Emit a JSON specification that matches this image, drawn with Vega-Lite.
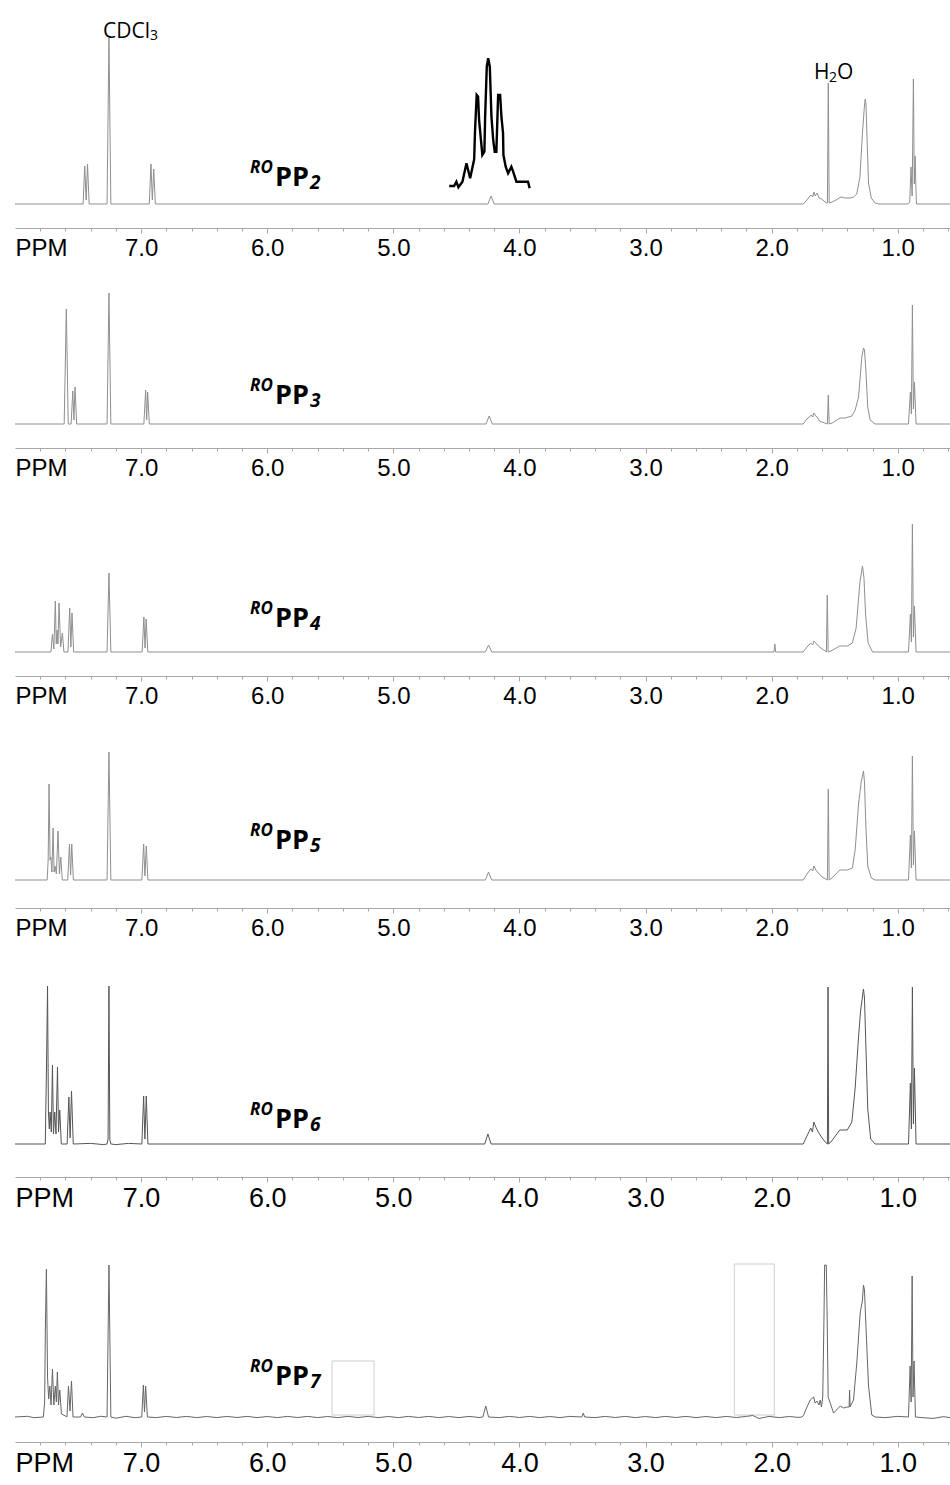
{
  "$schema": "https://vega.github.io/schema/vega-lite/v6.json",
  "padding": {"left": 13, "top": 0, "right": 0, "bottom": 0},
  "background": "white",
  "spacing": 0,
  "bounds": "flush",
  "config": {
    "view": {"stroke": null},
    "axisX": {
      "title": null, "grid": false, "domainColor": "#a8a8a8", "domainWidth": 1,
      "labelColor": "#000000", "labelFont": "Liberation Sans", "labelFontSize": 24,
      "labelPadding": 3, "labelFlush": false, "labelOverlap": false,
      "values": [8, 7.5, 7, 6.5, 6, 5.5, 5, 4.5, 4, 3.5, 3, 2.5, 2, 1.5, 1],
      "labelExpr": "datum.value == 8 ? 'PPM' : (datum.value % 1 == 0 ? format(datum.value, '.1f') : '')",
      "labelAlign": {"condition": {"test": "datum.value == 8", "value": "left"}, "value": "center"},
      "tickColor": {"condition": {"test": "datum.value == 8", "value": "transparent"}, "value": "#a8a8a8"},
      "tickSize": {"condition": {"test": "datum.value % 1 != 0", "value": 3}, "value": 5}
    }
  },
  "datasets": {
    "spec": [
      {"p":1,"ppm":8,"i":0},{"p":1,"ppm":7.46,"i":0},{"p":1,"ppm":7.447,"i":38},{"p":1,"ppm":7.436,"i":4},{"p":1,"ppm":7.425,"i":40},{"p":1,"ppm":7.412,"i":0},{"p":1,"ppm":7.27,"i":0},{"p":1,"ppm":7.255,"i":166},{"p":1,"ppm":7.24,"i":0},{"p":1,"ppm":6.935,"i":0},{"p":1,"ppm":6.922,"i":40},{"p":1,"ppm":6.911,"i":4},{"p":1,"ppm":6.9,"i":35},{"p":1,"ppm":6.887,"i":0},{"p":1,"ppm":4.25,"i":0},{"p":1,"ppm":4.225,"i":8},{"p":1,"ppm":4.2,"i":0},{"p":1,"ppm":1.75,"i":0},{"p":1,"ppm":1.72,"i":4},{"p":1,"ppm":1.69,"i":9},{"p":1,"ppm":1.675,"i":7},{"p":1,"ppm":1.665,"i":12},{"p":1,"ppm":1.655,"i":8},{"p":1,"ppm":1.64,"i":11},{"p":1,"ppm":1.625,"i":6},{"p":1,"ppm":1.605,"i":5},{"p":1,"ppm":1.585,"i":3},{"p":1,"ppm":1.565,"i":1},{"p":1,"ppm":1.558,"i":1},{"p":1,"ppm":1.551,"i":121},{"p":1,"ppm":1.544,"i":1},{"p":1,"ppm":1.52,"i":2},{"p":1,"ppm":1.49,"i":4},{"p":1,"ppm":1.45,"i":7},{"p":1,"ppm":1.42,"i":6},{"p":1,"ppm":1.38,"i":6},{"p":1,"ppm":1.35,"i":7},{"p":1,"ppm":1.325,"i":10},{"p":1,"ppm":1.3,"i":27},{"p":1,"ppm":1.28,"i":71},{"p":1,"ppm":1.265,"i":97},{"p":1,"ppm":1.258,"i":105},{"p":1,"ppm":1.252,"i":100},{"p":1,"ppm":1.245,"i":71},{"p":1,"ppm":1.232,"i":21},{"p":1,"ppm":1.21,"i":6},{"p":1,"ppm":1.18,"i":1},{"p":1,"ppm":1.15,"i":0},{"p":1,"ppm":0.92,"i":0},{"p":1,"ppm":0.905,"i":2},{"p":1,"ppm":0.895,"i":37},{"p":1,"ppm":0.886,"i":8},{"p":1,"ppm":0.876,"i":125},{"p":1,"ppm":0.869,"i":20},{"p":1,"ppm":0.863,"i":48},{"p":1,"ppm":0.852,"i":0},{"p":1,"ppm":0.57,"i":0},

      {"p":2,"ppm":8,"i":0},{"p":2,"ppm":7.61,"i":0},{"p":2,"ppm":7.593,"i":115},{"p":2,"ppm":7.578,"i":0},{"p":2,"ppm":7.555,"i":0},{"p":2,"ppm":7.542,"i":33},{"p":2,"ppm":7.533,"i":4},{"p":2,"ppm":7.524,"i":37},{"p":2,"ppm":7.511,"i":0},{"p":2,"ppm":7.27,"i":0},{"p":2,"ppm":7.255,"i":131},{"p":2,"ppm":7.24,"i":0},{"p":2,"ppm":6.978,"i":0},{"p":2,"ppm":6.964,"i":34},{"p":2,"ppm":6.956,"i":4},{"p":2,"ppm":6.948,"i":32},{"p":2,"ppm":6.935,"i":0},{"p":2,"ppm":4.265,"i":0},{"p":2,"ppm":4.24,"i":8},{"p":2,"ppm":4.215,"i":0},{"p":2,"ppm":1.75,"i":0},{"p":2,"ppm":1.72,"i":5},{"p":2,"ppm":1.685,"i":9},{"p":2,"ppm":1.675,"i":7},{"p":2,"ppm":1.665,"i":11},{"p":2,"ppm":1.655,"i":9},{"p":2,"ppm":1.64,"i":7},{"p":2,"ppm":1.62,"i":3},{"p":2,"ppm":1.58,"i":1},{"p":2,"ppm":1.558,"i":0},{"p":2,"ppm":1.551,"i":29},{"p":2,"ppm":1.544,"i":0},{"p":2,"ppm":1.52,"i":1},{"p":2,"ppm":1.457,"i":6},{"p":2,"ppm":1.417,"i":6},{"p":2,"ppm":1.364,"i":8},{"p":2,"ppm":1.338,"i":14},{"p":2,"ppm":1.311,"i":27},{"p":2,"ppm":1.285,"i":67},{"p":2,"ppm":1.272,"i":76},{"p":2,"ppm":1.264,"i":74},{"p":2,"ppm":1.253,"i":54},{"p":2,"ppm":1.238,"i":17},{"p":2,"ppm":1.219,"i":4},{"p":2,"ppm":1.18,"i":0},{"p":2,"ppm":0.915,"i":0},{"p":2,"ppm":0.9,"i":32},{"p":2,"ppm":0.892,"i":10},{"p":2,"ppm":0.884,"i":119},{"p":2,"ppm":0.876,"i":15},{"p":2,"ppm":0.868,"i":42},{"p":2,"ppm":0.855,"i":0},{"p":2,"ppm":0.57,"i":0},

      {"p":3,"ppm":8,"i":0},{"p":3,"ppm":7.715,"i":0},{"p":3,"ppm":7.703,"i":18},{"p":3,"ppm":7.692,"i":3},{"p":3,"ppm":7.68,"i":51},{"p":3,"ppm":7.673,"i":8},{"p":3,"ppm":7.666,"i":22},{"p":3,"ppm":7.659,"i":8},{"p":3,"ppm":7.651,"i":49},{"p":3,"ppm":7.638,"i":5},{"p":3,"ppm":7.624,"i":19},{"p":3,"ppm":7.612,"i":0},{"p":3,"ppm":7.58,"i":0},{"p":3,"ppm":7.566,"i":44},{"p":3,"ppm":7.557,"i":5},{"p":3,"ppm":7.548,"i":39},{"p":3,"ppm":7.535,"i":0},{"p":3,"ppm":7.27,"i":0},{"p":3,"ppm":7.255,"i":79},{"p":3,"ppm":7.24,"i":0},{"p":3,"ppm":6.992,"i":0},{"p":3,"ppm":6.978,"i":35},{"p":3,"ppm":6.969,"i":4},{"p":3,"ppm":6.96,"i":33},{"p":3,"ppm":6.947,"i":0},{"p":3,"ppm":4.27,"i":0},{"p":3,"ppm":4.245,"i":7},{"p":3,"ppm":4.22,"i":0},{"p":3,"ppm":1.982,"i":0},{"p":3,"ppm":1.975,"i":8},{"p":3,"ppm":1.968,"i":0},{"p":3,"ppm":1.75,"i":0},{"p":3,"ppm":1.72,"i":5},{"p":3,"ppm":1.69,"i":9},{"p":3,"ppm":1.675,"i":7},{"p":3,"ppm":1.665,"i":11},{"p":3,"ppm":1.65,"i":9},{"p":3,"ppm":1.63,"i":6},{"p":3,"ppm":1.6,"i":3},{"p":3,"ppm":1.575,"i":1},{"p":3,"ppm":1.566,"i":0},{"p":3,"ppm":1.559,"i":57},{"p":3,"ppm":1.552,"i":0},{"p":3,"ppm":1.53,"i":1},{"p":3,"ppm":1.46,"i":6},{"p":3,"ppm":1.4,"i":6},{"p":3,"ppm":1.36,"i":9},{"p":3,"ppm":1.33,"i":24},{"p":3,"ppm":1.3,"i":70},{"p":3,"ppm":1.28,"i":86},{"p":3,"ppm":1.268,"i":74},{"p":3,"ppm":1.255,"i":37},{"p":3,"ppm":1.235,"i":9},{"p":3,"ppm":1.2,"i":0},{"p":3,"ppm":0.915,"i":0},{"p":3,"ppm":0.9,"i":38},{"p":3,"ppm":0.892,"i":10},{"p":3,"ppm":0.884,"i":128},{"p":3,"ppm":0.876,"i":15},{"p":3,"ppm":0.868,"i":46},{"p":3,"ppm":0.855,"i":0},{"p":3,"ppm":0.57,"i":0},

      {"p":4,"ppm":8,"i":0},{"p":4,"ppm":7.745,"i":0},{"p":4,"ppm":7.737,"i":20},{"p":4,"ppm":7.73,"i":96},{"p":4,"ppm":7.722,"i":20},{"p":4,"ppm":7.716,"i":23},{"p":4,"ppm":7.707,"i":8},{"p":4,"ppm":7.698,"i":52},{"p":4,"ppm":7.69,"i":8},{"p":4,"ppm":7.683,"i":14},{"p":4,"ppm":7.672,"i":6},{"p":4,"ppm":7.659,"i":49},{"p":4,"ppm":7.648,"i":6},{"p":4,"ppm":7.637,"i":23},{"p":4,"ppm":7.625,"i":0},{"p":4,"ppm":7.582,"i":0},{"p":4,"ppm":7.568,"i":36},{"p":4,"ppm":7.559,"i":5},{"p":4,"ppm":7.55,"i":36},{"p":4,"ppm":7.537,"i":0},{"p":4,"ppm":7.27,"i":0},{"p":4,"ppm":7.255,"i":128},{"p":4,"ppm":7.24,"i":0},{"p":4,"ppm":6.994,"i":0},{"p":4,"ppm":6.98,"i":36},{"p":4,"ppm":6.97,"i":4},{"p":4,"ppm":6.959,"i":34},{"p":4,"ppm":6.946,"i":0},{"p":4,"ppm":4.27,"i":0},{"p":4,"ppm":4.245,"i":8},{"p":4,"ppm":4.22,"i":0},{"p":4,"ppm":1.75,"i":0},{"p":4,"ppm":1.72,"i":6},{"p":4,"ppm":1.69,"i":11},{"p":4,"ppm":1.675,"i":9},{"p":4,"ppm":1.665,"i":14},{"p":4,"ppm":1.65,"i":10},{"p":4,"ppm":1.63,"i":7},{"p":4,"ppm":1.6,"i":3},{"p":4,"ppm":1.57,"i":1},{"p":4,"ppm":1.558,"i":0},{"p":4,"ppm":1.551,"i":91},{"p":4,"ppm":1.544,"i":0},{"p":4,"ppm":1.53,"i":1},{"p":4,"ppm":1.46,"i":10},{"p":4,"ppm":1.4,"i":10},{"p":4,"ppm":1.36,"i":12},{"p":4,"ppm":1.338,"i":30},{"p":4,"ppm":1.311,"i":76},{"p":4,"ppm":1.29,"i":98},{"p":4,"ppm":1.272,"i":109},{"p":4,"ppm":1.264,"i":98},{"p":4,"ppm":1.253,"i":54},{"p":4,"ppm":1.238,"i":14},{"p":4,"ppm":1.21,"i":2},{"p":4,"ppm":1.18,"i":0},{"p":4,"ppm":0.915,"i":0},{"p":4,"ppm":0.9,"i":45},{"p":4,"ppm":0.892,"i":12},{"p":4,"ppm":0.884,"i":124},{"p":4,"ppm":0.876,"i":15},{"p":4,"ppm":0.868,"i":49},{"p":4,"ppm":0.855,"i":0},{"p":4,"ppm":0.57,"i":0},

      {"p":5,"ppm":8,"i":0},{"p":5,"ppm":7.76,"i":0},{"p":5,"ppm":7.75,"i":79},{"p":5,"ppm":7.742,"i":158},{"p":5,"ppm":7.735,"i":32},{"p":5,"ppm":7.728,"i":15},{"p":5,"ppm":7.722,"i":32},{"p":5,"ppm":7.712,"i":12},{"p":5,"ppm":7.703,"i":79},{"p":5,"ppm":7.695,"i":10},{"p":5,"ppm":7.685,"i":32},{"p":5,"ppm":7.675,"i":10},{"p":5,"ppm":7.663,"i":77},{"p":5,"ppm":7.655,"i":12},{"p":5,"ppm":7.645,"i":34},{"p":5,"ppm":7.633,"i":0},{"p":5,"ppm":7.587,"i":0},{"p":5,"ppm":7.573,"i":47},{"p":5,"ppm":7.563,"i":6},{"p":5,"ppm":7.552,"i":53},{"p":5,"ppm":7.538,"i":0},{"p":5,"ppm":7.4,"i":0.6},{"p":5,"ppm":7.3,"i":-0.6},{"p":5,"ppm":7.27,"i":0},{"p":5,"ppm":7.262,"i":5},{"p":5,"ppm":7.255,"i":158},{"p":5,"ppm":7.248,"i":4},{"p":5,"ppm":7.24,"i":0},{"p":5,"ppm":7.2,"i":-0.6},{"p":5,"ppm":7.1,"i":0.6},{"p":5,"ppm":6.994,"i":0},{"p":5,"ppm":6.98,"i":48},{"p":5,"ppm":6.97,"i":5},{"p":5,"ppm":6.959,"i":48},{"p":5,"ppm":6.946,"i":0},{"p":5,"ppm":4.275,"i":0},{"p":5,"ppm":4.25,"i":10},{"p":5,"ppm":4.225,"i":0},{"p":5,"ppm":1.75,"i":0},{"p":5,"ppm":1.72,"i":8},{"p":5,"ppm":1.69,"i":16},{"p":5,"ppm":1.677,"i":12},{"p":5,"ppm":1.665,"i":22},{"p":5,"ppm":1.65,"i":17},{"p":5,"ppm":1.63,"i":12},{"p":5,"ppm":1.6,"i":6},{"p":5,"ppm":1.575,"i":2},{"p":5,"ppm":1.558,"i":0},{"p":5,"ppm":1.553,"i":157},{"p":5,"ppm":1.548,"i":0},{"p":5,"ppm":1.53,"i":2},{"p":5,"ppm":1.46,"i":14},{"p":5,"ppm":1.4,"i":14},{"p":5,"ppm":1.364,"i":22},{"p":5,"ppm":1.338,"i":56},{"p":5,"ppm":1.311,"i":107},{"p":5,"ppm":1.295,"i":133},{"p":5,"ppm":1.272,"i":155},{"p":5,"ppm":1.264,"i":146},{"p":5,"ppm":1.253,"i":99},{"p":5,"ppm":1.238,"i":35},{"p":5,"ppm":1.215,"i":5},{"p":5,"ppm":1.18,"i":0},{"p":5,"ppm":0.915,"i":0},{"p":5,"ppm":0.9,"i":61},{"p":5,"ppm":0.892,"i":15},{"p":5,"ppm":0.884,"i":157},{"p":5,"ppm":0.876,"i":20},{"p":5,"ppm":0.868,"i":76},{"p":5,"ppm":0.855,"i":0},{"p":5,"ppm":0.57,"i":0},

      {"p":6,"ppm":8,"i":0},{"p":6,"ppm":7.9,"i":0.7},{"p":6,"ppm":7.85,"i":-0.7},{"p":6,"ppm":7.775,"i":0},{"p":6,"ppm":7.765,"i":15},{"p":6,"ppm":7.759,"i":91},{"p":6,"ppm":7.751,"i":148},{"p":6,"ppm":7.742,"i":40},{"p":6,"ppm":7.733,"i":18},{"p":6,"ppm":7.724,"i":31},{"p":6,"ppm":7.714,"i":12},{"p":6,"ppm":7.703,"i":48},{"p":6,"ppm":7.692,"i":12},{"p":6,"ppm":7.68,"i":31},{"p":6,"ppm":7.672,"i":15},{"p":6,"ppm":7.664,"i":45},{"p":6,"ppm":7.655,"i":12},{"p":6,"ppm":7.645,"i":27},{"p":6,"ppm":7.632,"i":3},{"p":6,"ppm":7.6,"i":1},{"p":6,"ppm":7.588,"i":0},{"p":6,"ppm":7.576,"i":31},{"p":6,"ppm":7.564,"i":6},{"p":6,"ppm":7.552,"i":36},{"p":6,"ppm":7.54,"i":0},{"p":6,"ppm":7.48,"i":0},{"p":6,"ppm":7.465,"i":4},{"p":6,"ppm":7.45,"i":0},{"p":6,"ppm":7.38,"i":-0.7},{"p":6,"ppm":7.32,"i":0.7},{"p":6,"ppm":7.27,"i":0},{"p":6,"ppm":7.255,"i":152},{"p":6,"ppm":7.24,"i":0},{"p":6,"ppm":7.2,"i":-1.2},{"p":6,"ppm":7.12,"i":0.7},{"p":6,"ppm":7.05,"i":-0.7},{"p":6,"ppm":6.995,"i":0},{"p":6,"ppm":6.982,"i":32},{"p":6,"ppm":6.973,"i":5},{"p":6,"ppm":6.964,"i":31},{"p":6,"ppm":6.95,"i":0},{"p":6,"ppm":6.88,"i":-0.6},{"p":6,"ppm":6.8,"i":0.6},{"p":6,"ppm":6.72,"i":-0.5},{"p":6,"ppm":6.64,"i":0.6},{"p":6,"ppm":6.56,"i":-0.6},{"p":6,"ppm":6.48,"i":0.5},{"p":6,"ppm":6.4,"i":-0.6},{"p":6,"ppm":6.32,"i":0.6},{"p":6,"ppm":6.24,"i":-0.5},{"p":6,"ppm":6.16,"i":0.6},{"p":6,"ppm":6.08,"i":-0.6},{"p":6,"ppm":6.0,"i":0.5},{"p":6,"ppm":5.92,"i":-0.6},{"p":6,"ppm":5.84,"i":0.6},{"p":6,"ppm":5.76,"i":-0.5},{"p":6,"ppm":5.68,"i":0.6},{"p":6,"ppm":5.6,"i":-0.6},{"p":6,"ppm":5.52,"i":0.5},{"p":6,"ppm":5.44,"i":-0.6},{"p":6,"ppm":5.36,"i":0.6},{"p":6,"ppm":5.28,"i":-0.5},{"p":6,"ppm":5.2,"i":0.6},{"p":6,"ppm":5.12,"i":-0.6},{"p":6,"ppm":5.04,"i":0.5},{"p":6,"ppm":4.96,"i":-0.6},{"p":6,"ppm":4.88,"i":0.6},{"p":6,"ppm":4.8,"i":-0.5},{"p":6,"ppm":4.72,"i":0.6},{"p":6,"ppm":4.64,"i":-0.6},{"p":6,"ppm":4.56,"i":0.5},{"p":6,"ppm":4.48,"i":-0.6},{"p":6,"ppm":4.4,"i":0.6},{"p":6,"ppm":4.32,"i":-0.5},{"p":6,"ppm":4.29,"i":0},{"p":6,"ppm":4.267,"i":11},{"p":6,"ppm":4.245,"i":0},{"p":6,"ppm":4.16,"i":-0.6},{"p":6,"ppm":4.08,"i":0.6},{"p":6,"ppm":4.0,"i":-0.5},{"p":6,"ppm":3.92,"i":0.6},{"p":6,"ppm":3.84,"i":-0.6},{"p":6,"ppm":3.76,"i":0.5},{"p":6,"ppm":3.68,"i":-0.6},{"p":6,"ppm":3.6,"i":0.6},{"p":6,"ppm":3.505,"i":0},{"p":6,"ppm":3.494,"i":4},{"p":6,"ppm":3.483,"i":0},{"p":6,"ppm":3.4,"i":-0.6},{"p":6,"ppm":3.32,"i":0.6},{"p":6,"ppm":3.24,"i":-0.5},{"p":6,"ppm":3.16,"i":0.6},{"p":6,"ppm":3.08,"i":-0.6},{"p":6,"ppm":3.0,"i":0.5},{"p":6,"ppm":2.92,"i":-0.6},{"p":6,"ppm":2.84,"i":0.6},{"p":6,"ppm":2.76,"i":-0.5},{"p":6,"ppm":2.68,"i":0.6},{"p":6,"ppm":2.6,"i":-0.6},{"p":6,"ppm":2.52,"i":0.5},{"p":6,"ppm":2.44,"i":-0.6},{"p":6,"ppm":2.36,"i":0.6},{"p":6,"ppm":2.28,"i":-0.5},{"p":6,"ppm":2.2,"i":0.6},{"p":6,"ppm":2.15,"i":1.5},{"p":6,"ppm":2.1,"i":-1.5},{"p":6,"ppm":2.02,"i":0.6},{"p":6,"ppm":1.94,"i":-0.6},{"p":6,"ppm":1.86,"i":0.5},{"p":6,"ppm":1.79,"i":-0.4},{"p":6,"ppm":1.76,"i":0},{"p":6,"ppm":1.746,"i":2},{"p":6,"ppm":1.72,"i":10},{"p":6,"ppm":1.694,"i":17},{"p":6,"ppm":1.667,"i":20},{"p":6,"ppm":1.655,"i":14},{"p":6,"ppm":1.641,"i":16},{"p":6,"ppm":1.625,"i":12},{"p":6,"ppm":1.615,"i":17},{"p":6,"ppm":1.605,"i":10},{"p":6,"ppm":1.595,"i":20},{"p":6,"ppm":1.585,"i":100},{"p":6,"ppm":1.58,"i":152},{"p":6,"ppm":1.567,"i":152},{"p":6,"ppm":1.56,"i":100},{"p":6,"ppm":1.552,"i":20},{"p":6,"ppm":1.509,"i":4},{"p":6,"ppm":1.456,"i":11},{"p":6,"ppm":1.43,"i":9},{"p":6,"ppm":1.404,"i":10},{"p":6,"ppm":1.386,"i":10},{"p":6,"ppm":1.382,"i":27},{"p":6,"ppm":1.378,"i":10},{"p":6,"ppm":1.351,"i":17},{"p":6,"ppm":1.325,"i":54},{"p":6,"ppm":1.298,"i":104},{"p":6,"ppm":1.28,"i":117},{"p":6,"ppm":1.272,"i":132},{"p":6,"ppm":1.264,"i":127},{"p":6,"ppm":1.251,"i":87},{"p":6,"ppm":1.232,"i":31},{"p":6,"ppm":1.206,"i":2},{"p":6,"ppm":1.18,"i":0},{"p":6,"ppm":1.1,"i":-0.6},{"p":6,"ppm":1.0,"i":0.6},{"p":6,"ppm":0.915,"i":0},{"p":6,"ppm":0.902,"i":51},{"p":6,"ppm":0.894,"i":15},{"p":6,"ppm":0.886,"i":141},{"p":6,"ppm":0.879,"i":20},{"p":6,"ppm":0.871,"i":56},{"p":6,"ppm":0.86,"i":0},{"p":6,"ppm":0.8,"i":-0.7},{"p":6,"ppm":0.72,"i":-1.4},{"p":6,"ppm":0.64,"i":0.3},{"p":6,"ppm":0.57,"i":-0.8}
    ],
    "inset": [
      {"ppm":4.557,"i":18},{"ppm":4.518,"i":18},{"ppm":4.5,"i":22.3},{"ppm":4.484,"i":16.7},{"ppm":4.452,"i":22.3},{"ppm":4.42,"i":40.7},{"ppm":4.391,"i":25.7},{"ppm":4.359,"i":44.7},{"ppm":4.352,"i":74},{"ppm":4.339,"i":109},{"ppm":4.328,"i":107.3},{"ppm":4.32,"i":84},{"ppm":4.294,"i":49},{"ppm":4.278,"i":52.3},{"ppm":4.272,"i":87.3},{"ppm":4.259,"i":137.3},{"ppm":4.248,"i":145.7},{"ppm":4.235,"i":137.3},{"ppm":4.222,"i":87.3},{"ppm":4.208,"i":64},{"ppm":4.196,"i":52.3},{"ppm":4.183,"i":52.3},{"ppm":4.169,"i":109},{"ppm":4.153,"i":109},{"ppm":4.143,"i":87.3},{"ppm":4.13,"i":70.7},{"ppm":4.127,"i":49},{"ppm":4.109,"i":37.3},{"ppm":4.09,"i":30.7},{"ppm":4.064,"i":37.3},{"ppm":4.05,"i":32.3},{"ppm":4.024,"i":22.3},{"ppm":3.932,"i":22.3},{"ppm":3.919,"i":15.7}
    ],
    "lab": [
      {"p":1,"ppm":6.136,"i":26,"s":"2"},{"p":2,"ppm":6.136,"i":28,"s":"3"},{"p":3,"ppm":6.136,"i":33,"s":"4"},
      {"p":4,"ppm":6.136,"i":39,"s":"5"},{"p":5,"ppm":6.136,"i":24,"s":"6"},{"p":6,"ppm":6.136,"i":40,"s":"7"}
    ],
    "ann": [
      {"k":"cdcl","ppm":7.302,"i":172},{"k":"h2o","ppm":1.664,"i":131}
    ],
    "rects": [
      {"x1":5.486,"x2":5.153,"y1":2,"y2":56},{"x1":2.296,"x2":1.979,"y1":2,"y2":153}
    ]
  },
  "vconcat": [
    {
      "width": 937, "height": 228,
      "layer": [
        {"data": {"name": "spec"}, "transform": [{"filter": "datum.p == 1"}],
         "mark": {"type": "line", "color": "#8f8f8f", "strokeWidth": 1},
         "encoding": {
           "x": {"field": "ppm", "type": "quantitative", "scale": {"domain": [0.57, 8], "reverse": true, "nice": false, "zero": false}},
           "y": {"field": "i", "type": "quantitative", "scale": {"domain": [-24, 204], "nice": false, "zero": false}, "axis": null}}},
        {"data": {"name": "inset"},
         "mark": {"type": "line", "color": "#000000", "strokeWidth": 2.4, "strokeJoin": "miter"},
         "encoding": {"x": {"field": "ppm", "type": "quantitative"}, "y": {"field": "i", "type": "quantitative"}}},
        {"data": {"name": "ann"}, "transform": [{"filter": "datum.k == 'cdcl'"}],
         "mark": {"type": "text", "text": "CDCl", "font": "Open Sans", "fontSize": 21, "align": "left", "color": "#000000"},
         "encoding": {"x": {"field": "ppm", "type": "quantitative"}, "y": {"field": "i", "type": "quantitative"}}},
        {"data": {"name": "ann"}, "transform": [{"filter": "datum.k == 'cdcl'"}],
         "mark": {"type": "text", "text": "3", "font": "Open Sans", "fontSize": 14, "align": "left", "dx": 47, "dy": 4, "color": "#000000"},
         "encoding": {"x": {"field": "ppm", "type": "quantitative"}, "y": {"field": "i", "type": "quantitative"}}},
        {"data": {"name": "ann"}, "transform": [{"filter": "datum.k == 'h2o'"}],
         "mark": {"type": "text", "text": "H", "font": "Open Sans", "fontSize": 21, "align": "left", "color": "#000000"},
         "encoding": {"x": {"field": "ppm", "type": "quantitative"}, "y": {"field": "i", "type": "quantitative"}}},
        {"data": {"name": "ann"}, "transform": [{"filter": "datum.k == 'h2o'"}],
         "mark": {"type": "text", "text": "2", "font": "Open Sans", "fontSize": 14, "align": "left", "dx": 15, "dy": 5, "color": "#000000"},
         "encoding": {"x": {"field": "ppm", "type": "quantitative"}, "y": {"field": "i", "type": "quantitative"}}},
        {"data": {"name": "ann"}, "transform": [{"filter": "datum.k == 'h2o'"}],
         "mark": {"type": "text", "text": "O", "font": "Open Sans", "fontSize": 21, "align": "left", "dx": 23, "color": "#000000"},
         "encoding": {"x": {"field": "ppm", "type": "quantitative"}, "y": {"field": "i", "type": "quantitative"}}},
        {"data": {"name": "lab"}, "transform": [{"filter": "datum.p == 1"}],
         "mark": {"type": "text", "text": "RO", "font": "Open Sans", "fontWeight": "bold", "fontStyle": "italic", "fontSize": 17, "align": "left", "dy": -10, "color": "#000000"},
         "encoding": {"x": {"field": "ppm", "type": "quantitative"}, "y": {"field": "i", "type": "quantitative"}}},
        {"data": {"name": "lab"}, "transform": [{"filter": "datum.p == 1"}],
         "mark": {"type": "text", "text": "PP", "font": "Open Sans", "fontWeight": "bold", "fontSize": 27, "align": "left", "dx": 25, "color": "#000000"},
         "encoding": {"x": {"field": "ppm", "type": "quantitative"}, "y": {"field": "i", "type": "quantitative"}}},
        {"data": {"name": "lab"}, "transform": [{"filter": "datum.p == 1"}],
         "mark": {"type": "text", "font": "Open Sans", "fontWeight": "bold", "fontStyle": "italic", "fontSize": 19, "align": "left", "dx": 60, "dy": 5, "color": "#000000"},
         "encoding": {"x": {"field": "ppm", "type": "quantitative"}, "y": {"field": "i", "type": "quantitative"}, "text": {"field": "s"}}}
      ]
    },
    {
      "width": 937, "height": 220,
      "layer": [
        {"data": {"name": "spec"}, "transform": [{"filter": "datum.p == 2"}],
         "mark": {"type": "line", "color": "#8f8f8f", "strokeWidth": 1},
         "encoding": {
           "x": {"field": "ppm", "type": "quantitative", "scale": {"domain": [0.57, 8], "reverse": true, "nice": false, "zero": false}},
           "y": {"field": "i", "type": "quantitative", "scale": {"domain": [-24, 196], "nice": false, "zero": false}, "axis": null}}},
        {"data": {"name": "lab"}, "transform": [{"filter": "datum.p == 2"}],
         "mark": {"type": "text", "text": "RO", "font": "Open Sans", "fontWeight": "bold", "fontStyle": "italic", "fontSize": 17, "align": "left", "dy": -10, "color": "#000000"},
         "encoding": {"x": {"field": "ppm", "type": "quantitative"}, "y": {"field": "i", "type": "quantitative"}}},
        {"data": {"name": "lab"}, "transform": [{"filter": "datum.p == 2"}],
         "mark": {"type": "text", "text": "PP", "font": "Open Sans", "fontWeight": "bold", "fontSize": 27, "align": "left", "dx": 25, "color": "#000000"},
         "encoding": {"x": {"field": "ppm", "type": "quantitative"}, "y": {"field": "i", "type": "quantitative"}}},
        {"data": {"name": "lab"}, "transform": [{"filter": "datum.p == 2"}],
         "mark": {"type": "text", "font": "Open Sans", "fontWeight": "bold", "fontStyle": "italic", "fontSize": 19, "align": "left", "dx": 60, "dy": 5, "color": "#000000"},
         "encoding": {"x": {"field": "ppm", "type": "quantitative"}, "y": {"field": "i", "type": "quantitative"}, "text": {"field": "s"}}}
      ]
    },
    {
      "width": 937, "height": 228,
      "layer": [
        {"data": {"name": "spec"}, "transform": [{"filter": "datum.p == 3"}],
         "mark": {"type": "line", "color": "#8f8f8f", "strokeWidth": 1},
         "encoding": {
           "x": {"field": "ppm", "type": "quantitative", "scale": {"domain": [0.57, 8], "reverse": true, "nice": false, "zero": false}},
           "y": {"field": "i", "type": "quantitative", "scale": {"domain": [-24, 204], "nice": false, "zero": false}, "axis": null}}},
        {"data": {"name": "lab"}, "transform": [{"filter": "datum.p == 3"}],
         "mark": {"type": "text", "text": "RO", "font": "Open Sans", "fontWeight": "bold", "fontStyle": "italic", "fontSize": 17, "align": "left", "dy": -10, "color": "#000000"},
         "encoding": {"x": {"field": "ppm", "type": "quantitative"}, "y": {"field": "i", "type": "quantitative"}}},
        {"data": {"name": "lab"}, "transform": [{"filter": "datum.p == 3"}],
         "mark": {"type": "text", "text": "PP", "font": "Open Sans", "fontWeight": "bold", "fontSize": 27, "align": "left", "dx": 25, "color": "#000000"},
         "encoding": {"x": {"field": "ppm", "type": "quantitative"}, "y": {"field": "i", "type": "quantitative"}}},
        {"data": {"name": "lab"}, "transform": [{"filter": "datum.p == 3"}],
         "mark": {"type": "text", "font": "Open Sans", "fontWeight": "bold", "fontStyle": "italic", "fontSize": 19, "align": "left", "dx": 60, "dy": 5, "color": "#000000"},
         "encoding": {"x": {"field": "ppm", "type": "quantitative"}, "y": {"field": "i", "type": "quantitative"}, "text": {"field": "s"}}}
      ]
    },
    {
      "width": 937, "height": 232,
      "layer": [
        {"data": {"name": "spec"}, "transform": [{"filter": "datum.p == 4"}],
         "mark": {"type": "line", "color": "#8f8f8f", "strokeWidth": 1},
         "encoding": {
           "x": {"field": "ppm", "type": "quantitative", "scale": {"domain": [0.57, 8], "reverse": true, "nice": false, "zero": false}},
           "y": {"field": "i", "type": "quantitative", "scale": {"domain": [-28, 204], "nice": false, "zero": false}, "axis": null}}},
        {"data": {"name": "lab"}, "transform": [{"filter": "datum.p == 4"}],
         "mark": {"type": "text", "text": "RO", "font": "Open Sans", "fontWeight": "bold", "fontStyle": "italic", "fontSize": 17, "align": "left", "dy": -10, "color": "#000000"},
         "encoding": {"x": {"field": "ppm", "type": "quantitative"}, "y": {"field": "i", "type": "quantitative"}}},
        {"data": {"name": "lab"}, "transform": [{"filter": "datum.p == 4"}],
         "mark": {"type": "text", "text": "PP", "font": "Open Sans", "fontWeight": "bold", "fontSize": 27, "align": "left", "dx": 25, "color": "#000000"},
         "encoding": {"x": {"field": "ppm", "type": "quantitative"}, "y": {"field": "i", "type": "quantitative"}}},
        {"data": {"name": "lab"}, "transform": [{"filter": "datum.p == 4"}],
         "mark": {"type": "text", "font": "Open Sans", "fontWeight": "bold", "fontStyle": "italic", "fontSize": 19, "align": "left", "dx": 60, "dy": 5, "color": "#000000"},
         "encoding": {"x": {"field": "ppm", "type": "quantitative"}, "y": {"field": "i", "type": "quantitative"}, "text": {"field": "s"}}}
      ]
    },
    {
      "width": 937, "height": 269,
      "layer": [
        {"data": {"name": "spec"}, "transform": [{"filter": "datum.p == 5"}],
         "mark": {"type": "line", "color": "#555555", "strokeWidth": 1},
         "encoding": {
           "x": {"field": "ppm", "type": "quantitative", "scale": {"domain": [0.57, 8], "reverse": true, "nice": false, "zero": false},
                 "axis": {"labelFontSize": 27, "labelPadding": 3}},
           "y": {"field": "i", "type": "quantitative", "scale": {"domain": [-33, 236], "nice": false, "zero": false}, "axis": null}}},
        {"data": {"name": "lab"}, "transform": [{"filter": "datum.p == 5"}],
         "mark": {"type": "text", "text": "RO", "font": "Open Sans", "fontWeight": "bold", "fontStyle": "italic", "fontSize": 17, "align": "left", "dy": -10, "color": "#000000"},
         "encoding": {"x": {"field": "ppm", "type": "quantitative"}, "y": {"field": "i", "type": "quantitative"}}},
        {"data": {"name": "lab"}, "transform": [{"filter": "datum.p == 5"}],
         "mark": {"type": "text", "text": "PP", "font": "Open Sans", "fontWeight": "bold", "fontSize": 27, "align": "left", "dx": 25, "color": "#000000"},
         "encoding": {"x": {"field": "ppm", "type": "quantitative"}, "y": {"field": "i", "type": "quantitative"}}},
        {"data": {"name": "lab"}, "transform": [{"filter": "datum.p == 5"}],
         "mark": {"type": "text", "font": "Open Sans", "fontWeight": "bold", "fontStyle": "italic", "fontSize": 19, "align": "left", "dx": 60, "dy": 5, "color": "#000000"},
         "encoding": {"x": {"field": "ppm", "type": "quantitative"}, "y": {"field": "i", "type": "quantitative"}, "text": {"field": "s"}}}
      ]
    },
    {
      "width": 937, "height": 265,
      "layer": [
        {"data": {"name": "rects"},
         "mark": {"type": "rect", "fill": null, "stroke": "#cfcfcf", "strokeWidth": 1},
         "encoding": {
           "x": {"field": "x1", "type": "quantitative", "scale": {"domain": [0.57, 8], "reverse": true, "nice": false, "zero": false},
                 "axis": {"labelFontSize": 27, "labelPadding": 3}},
           "x2": {"field": "x2"},
           "y": {"field": "y1", "type": "quantitative", "scale": {"domain": [-25, 240], "nice": false, "zero": false}, "axis": null},
           "y2": {"field": "y2"}}},
        {"data": {"name": "spec"}, "transform": [{"filter": "datum.p == 6"}],
         "mark": {"type": "line", "color": "#666666", "strokeWidth": 1},
         "encoding": {
           "x": {"field": "ppm", "type": "quantitative"},
           "y": {"field": "i", "type": "quantitative"}}},
        {"data": {"name": "lab"}, "transform": [{"filter": "datum.p == 6"}],
         "mark": {"type": "text", "text": "RO", "font": "Open Sans", "fontWeight": "bold", "fontStyle": "italic", "fontSize": 17, "align": "left", "dy": -10, "color": "#000000"},
         "encoding": {"x": {"field": "ppm", "type": "quantitative"}, "y": {"field": "i", "type": "quantitative"}}},
        {"data": {"name": "lab"}, "transform": [{"filter": "datum.p == 6"}],
         "mark": {"type": "text", "text": "PP", "font": "Open Sans", "fontWeight": "bold", "fontSize": 27, "align": "left", "dx": 25, "color": "#000000"},
         "encoding": {"x": {"field": "ppm", "type": "quantitative"}, "y": {"field": "i", "type": "quantitative"}}},
        {"data": {"name": "lab"}, "transform": [{"filter": "datum.p == 6"}],
         "mark": {"type": "text", "font": "Open Sans", "fontWeight": "bold", "fontStyle": "italic", "fontSize": 19, "align": "left", "dx": 60, "dy": 5, "color": "#000000"},
         "encoding": {"x": {"field": "ppm", "type": "quantitative"}, "y": {"field": "i", "type": "quantitative"}, "text": {"field": "s"}}}
      ]
    }
  ]
}
